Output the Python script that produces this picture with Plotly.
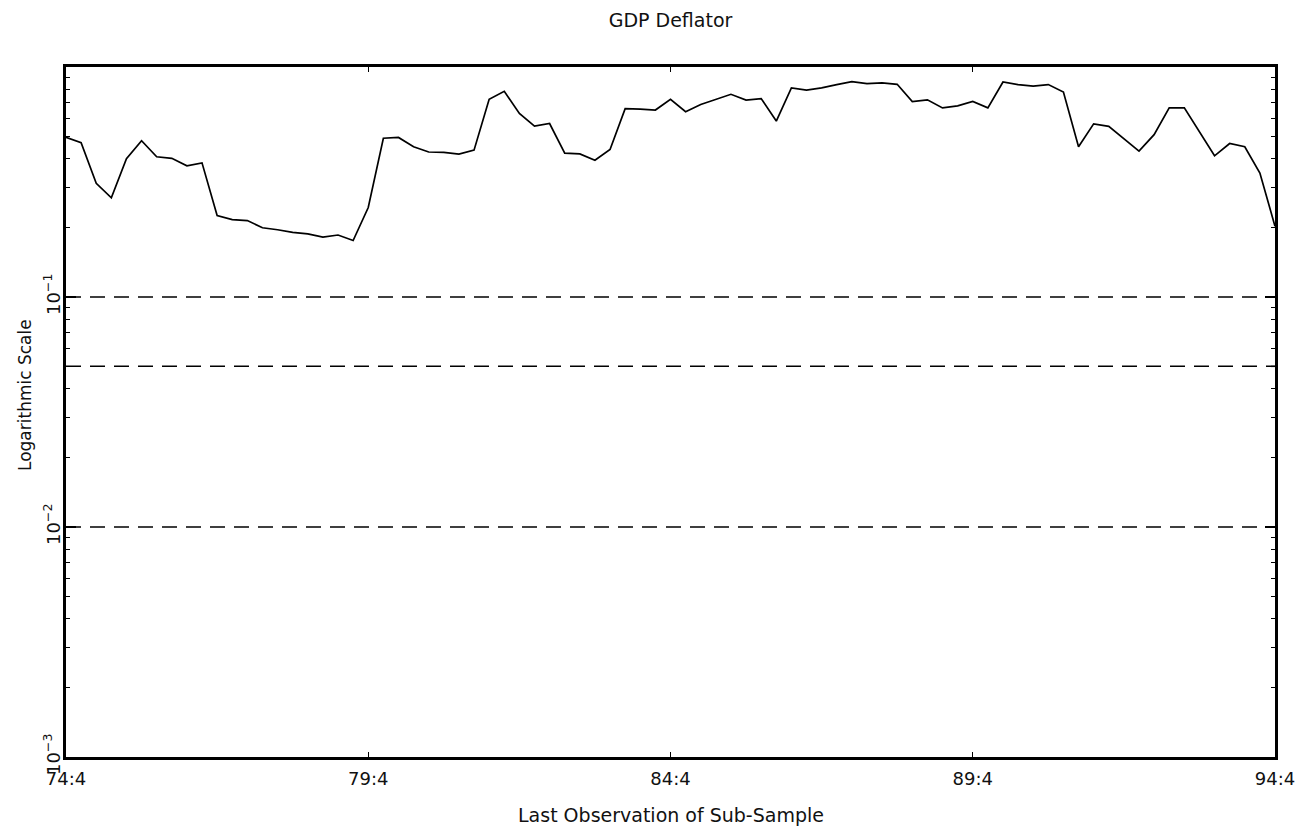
import plotly.graph_objects as go

# Quarter labels from 74:4 to 94:4
quarters = []
yr, q = 74, 4
while (yr, q) <= (94, 4):
    quarters.append(f"{yr}:{q}")
    q += 1
    if q > 4:
        q = 1
        yr += 1

values = [0.495, 0.469, 0.312, 0.270, 0.399, 0.478, 0.407, 0.401, 0.372, 0.383,
          0.226, 0.217, 0.215, 0.200, 0.196, 0.191, 0.188, 0.182, 0.186, 0.176,
          0.245, 0.490, 0.494, 0.450, 0.427, 0.425, 0.418, 0.435, 0.724, 0.784,
          0.628, 0.553, 0.568, 0.422, 0.419, 0.393, 0.438, 0.659, 0.656, 0.650,
          0.724, 0.639, 0.687, 0.724, 0.761, 0.718, 0.729, 0.582, 0.811, 0.794,
          0.811, 0.838, 0.863, 0.846, 0.853, 0.841, 0.708, 0.720, 0.664, 0.678,
          0.708, 0.664, 0.861, 0.838, 0.826, 0.839, 0.778, 0.450, 0.566, 0.552,
          0.489, 0.431, 0.508, 0.665, 0.664, 0.520, 0.411, 0.465, 0.450, 0.346,
          0.203]

ref_levels = [0.1, 0.05, 0.01]

x_tick_labels = ["74:4", "79:4", "84:4", "89:4", "94:4"]
y_tick_vals = [0.001, 0.01, 0.1]
y_tick_labels = ["10<sup>−3</sup>", "10<sup>−2</sup>", "10<sup>−1</sup>"]

FONT = "DejaVu Sans"
xpos = list(range(len(quarters)))
x_tick_pos = [quarters.index(t) for t in x_tick_labels]

fig = go.Figure()
for lv in ref_levels:
    fig.add_trace(go.Scatter(
        x=[xpos[0], xpos[-1]], y=[lv, lv], mode="lines",
        line=dict(color="black", width=1.7, dash="15px,9px"),
        showlegend=False, hoverinfo="skip"))

fig.add_trace(go.Scatter(
    x=xpos, y=values, mode="lines", text=quarters,
    line=dict(color="black", width=1.7),
    showlegend=False))

W, H = 1307, 819
fig.update_layout(
    width=W, height=H,
    margin=dict(l=58, r=40, t=59, b=70),
    paper_bgcolor="white", plot_bgcolor="white",
    font=dict(family=FONT, size=17, color="#111"),
    title=dict(text="GDP Deflator", x=0.5, xref="paper", y=1 - 12 / H,
               yref="container", xanchor="center", yanchor="middle",
               font=dict(family=FONT, size=19, color="#111")),
    xaxis=dict(
        range=[xpos[0], xpos[-1]],
        tickmode="array", tickvals=x_tick_pos, ticktext=x_tick_labels,
        ticks="inside", ticklen=5, tickwidth=1, tickcolor="black",
        showline=True, linecolor="black", linewidth=2.8, mirror="ticks",
        showgrid=False, zeroline=False, tickangle=0,
        ticklabelstandoff=3,
        tickfont=dict(family=FONT, size=18, color="#111"),
    ),
    yaxis=dict(
        type="log", range=[-3, 0],
        tickmode="array", tickvals=y_tick_vals, ticktext=y_tick_labels,
        tickangle=-90,
        ticks="inside", ticklen=10, tickwidth=1.5, tickcolor="black",
        showline=True, linecolor="black", linewidth=2.8, mirror="ticks",
        showgrid=False, zeroline=False,
        ticklabelstandoff=-4,
        tickfont=dict(family=FONT, size=18, color="#111"),
        minor=dict(ticks="inside", ticklen=4, tickwidth=1.2, tickcolor="black",
                   showgrid=False, dtick="D1"),
    ),
    annotations=[
        dict(text="Last Observation of Sub-Sample", xref="paper", yref="paper",
             x=0.5, y=(757 - 815) / 690, xanchor="center", yanchor="middle",
             showarrow=False, font=dict(family=FONT, size=19, color="#111")),
        dict(text="Logarithmic Scale", xref="paper", yref="paper",
             x=(25 - 66) / 1209, y=(757 - 395) / 690, xanchor="center",
             yanchor="middle", textangle=-90, showarrow=False,
             font=dict(family=FONT, size=17, color="#111")),
    ],
)

fig.write_html("out.html")
